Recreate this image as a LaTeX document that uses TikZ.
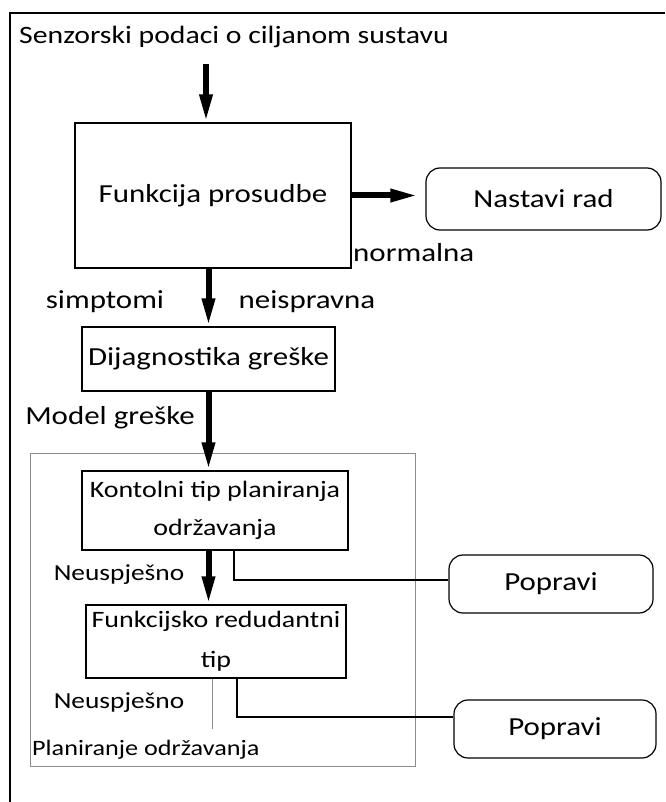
\documentclass[tikz,border=0pt]{standalone}
\usepackage{fontspec}
\setmainfont[FakeStretch=1.19]{Carlito}
\usetikzlibrary{arrows.meta}

\begin{document}
\begin{tikzpicture}
[x=1pt,y=-1pt,
% Styles
block/.style={draw,line width=1.2pt,inner sep=0pt,font=\fontsize{26}{30}\selectfont},
small block/.style={block,align=center,font=\fontsize{23.5}{38}\selectfont},
outcome/.style={draw,line width=1.2pt,rounded corners=14pt,inner sep=0pt,font=\fontsize{26}{30}\selectfont},
label text/.style={inner sep=0pt,font=\fontsize{26}{30}\selectfont},
small text/.style={inner sep=0pt,font=\fontsize{23}{28}\selectfont},
flow/.style={line width=6pt,-{Triangle[length=28pt,width=12pt]}},
link/.style={line width=1.2pt}]
% Colors
\colorlet{framecolor}{black!45}
% The graphic
\useasboundingbox (0,0) rectangle (665,802);
\draw[line width=1.5pt] (665,13) -- (10,13) -- (10,802);
\draw[framecolor,line width=1pt] (30,453) rectangle (415,766);
\node[label text,anchor=west,font=\fontsize{25}{30}\selectfont] (sensors) at (19,37) {Senzorski podaci o ciljanom sustavu};
\node[block,minimum width=276pt,minimum height=145pt] (judge) at (213,195.5) {Funkcija prosudbe};
\node[outcome,minimum width=235pt,minimum height=62pt] (resume) at (543.5,199) {Nastavi rad};
\node[block,minimum width=253pt,minimum height=64pt] (diagnose) at (208.5,359) {Dijagnostika greške};
\node[small block,minimum width=266pt,minimum height=79pt] (control) at (215,510.5) {Kontolni tip planiranja\\održavanja};
\node[small block,minimum width=260pt,minimum height=73pt,font=\fontsize{23.5}{40}\selectfont] (redundant) at (216,641.5) {Funkcijsko redudantni\\tip};
\node[outcome,minimum width=204pt,minimum height=58pt] (repair one) at (551,584) {Popravi};
\node[outcome,minimum width=202pt,minimum height=58pt] (repair two) at (555,729) {Popravi};
% Labels
\node[label text,anchor=west] (normal) at (353,253) {normalna};
\node[label text] (symptoms) at (105,302) {simptomi};
\node[label text] (faulty) at (307,302) {neispravna};
\node[label text] (fault model) at (110,418) {Model greške};
\node[small text] (fail one) at (119,575) {Neuspješno};
\node[small text] (fail two) at (119,703) {Neuspješno};
\node[small text,anchor=west,font=\fontsize{22}{26}\selectfont] (planning) at (32,750) {Planiranje održavanja};
% Connectors
\coordinate (sensors in) at (206,64);
\draw[flow] (sensors in) -- (sensors in |- judge.north);
\draw[flow,shorten >=7pt] (judge.east) -- (judge.east -| resume.west);
\draw[flow] (judge.south -| diagnose) -- (diagnose.north);
\draw[flow] (diagnose.south) -- (diagnose.south |- control.north);
\draw[flow] (control.south -| diagnose) -- (diagnose |- redundant.north);
\draw[link] ([xshift=19pt]control.south) |- ([yshift=4pt]repair one.west);
\draw[link] ([xshift=21pt]redundant.south) |- ([yshift=12pt]repair two.west);
\coordinate (fail out) at ([xshift=-4pt,yshift=-50pt]redundant.south);
\draw[framecolor,line width=1pt] ([xshift=-4pt]redundant.south) -- (fail out);
\end{tikzpicture}
\end{document}
